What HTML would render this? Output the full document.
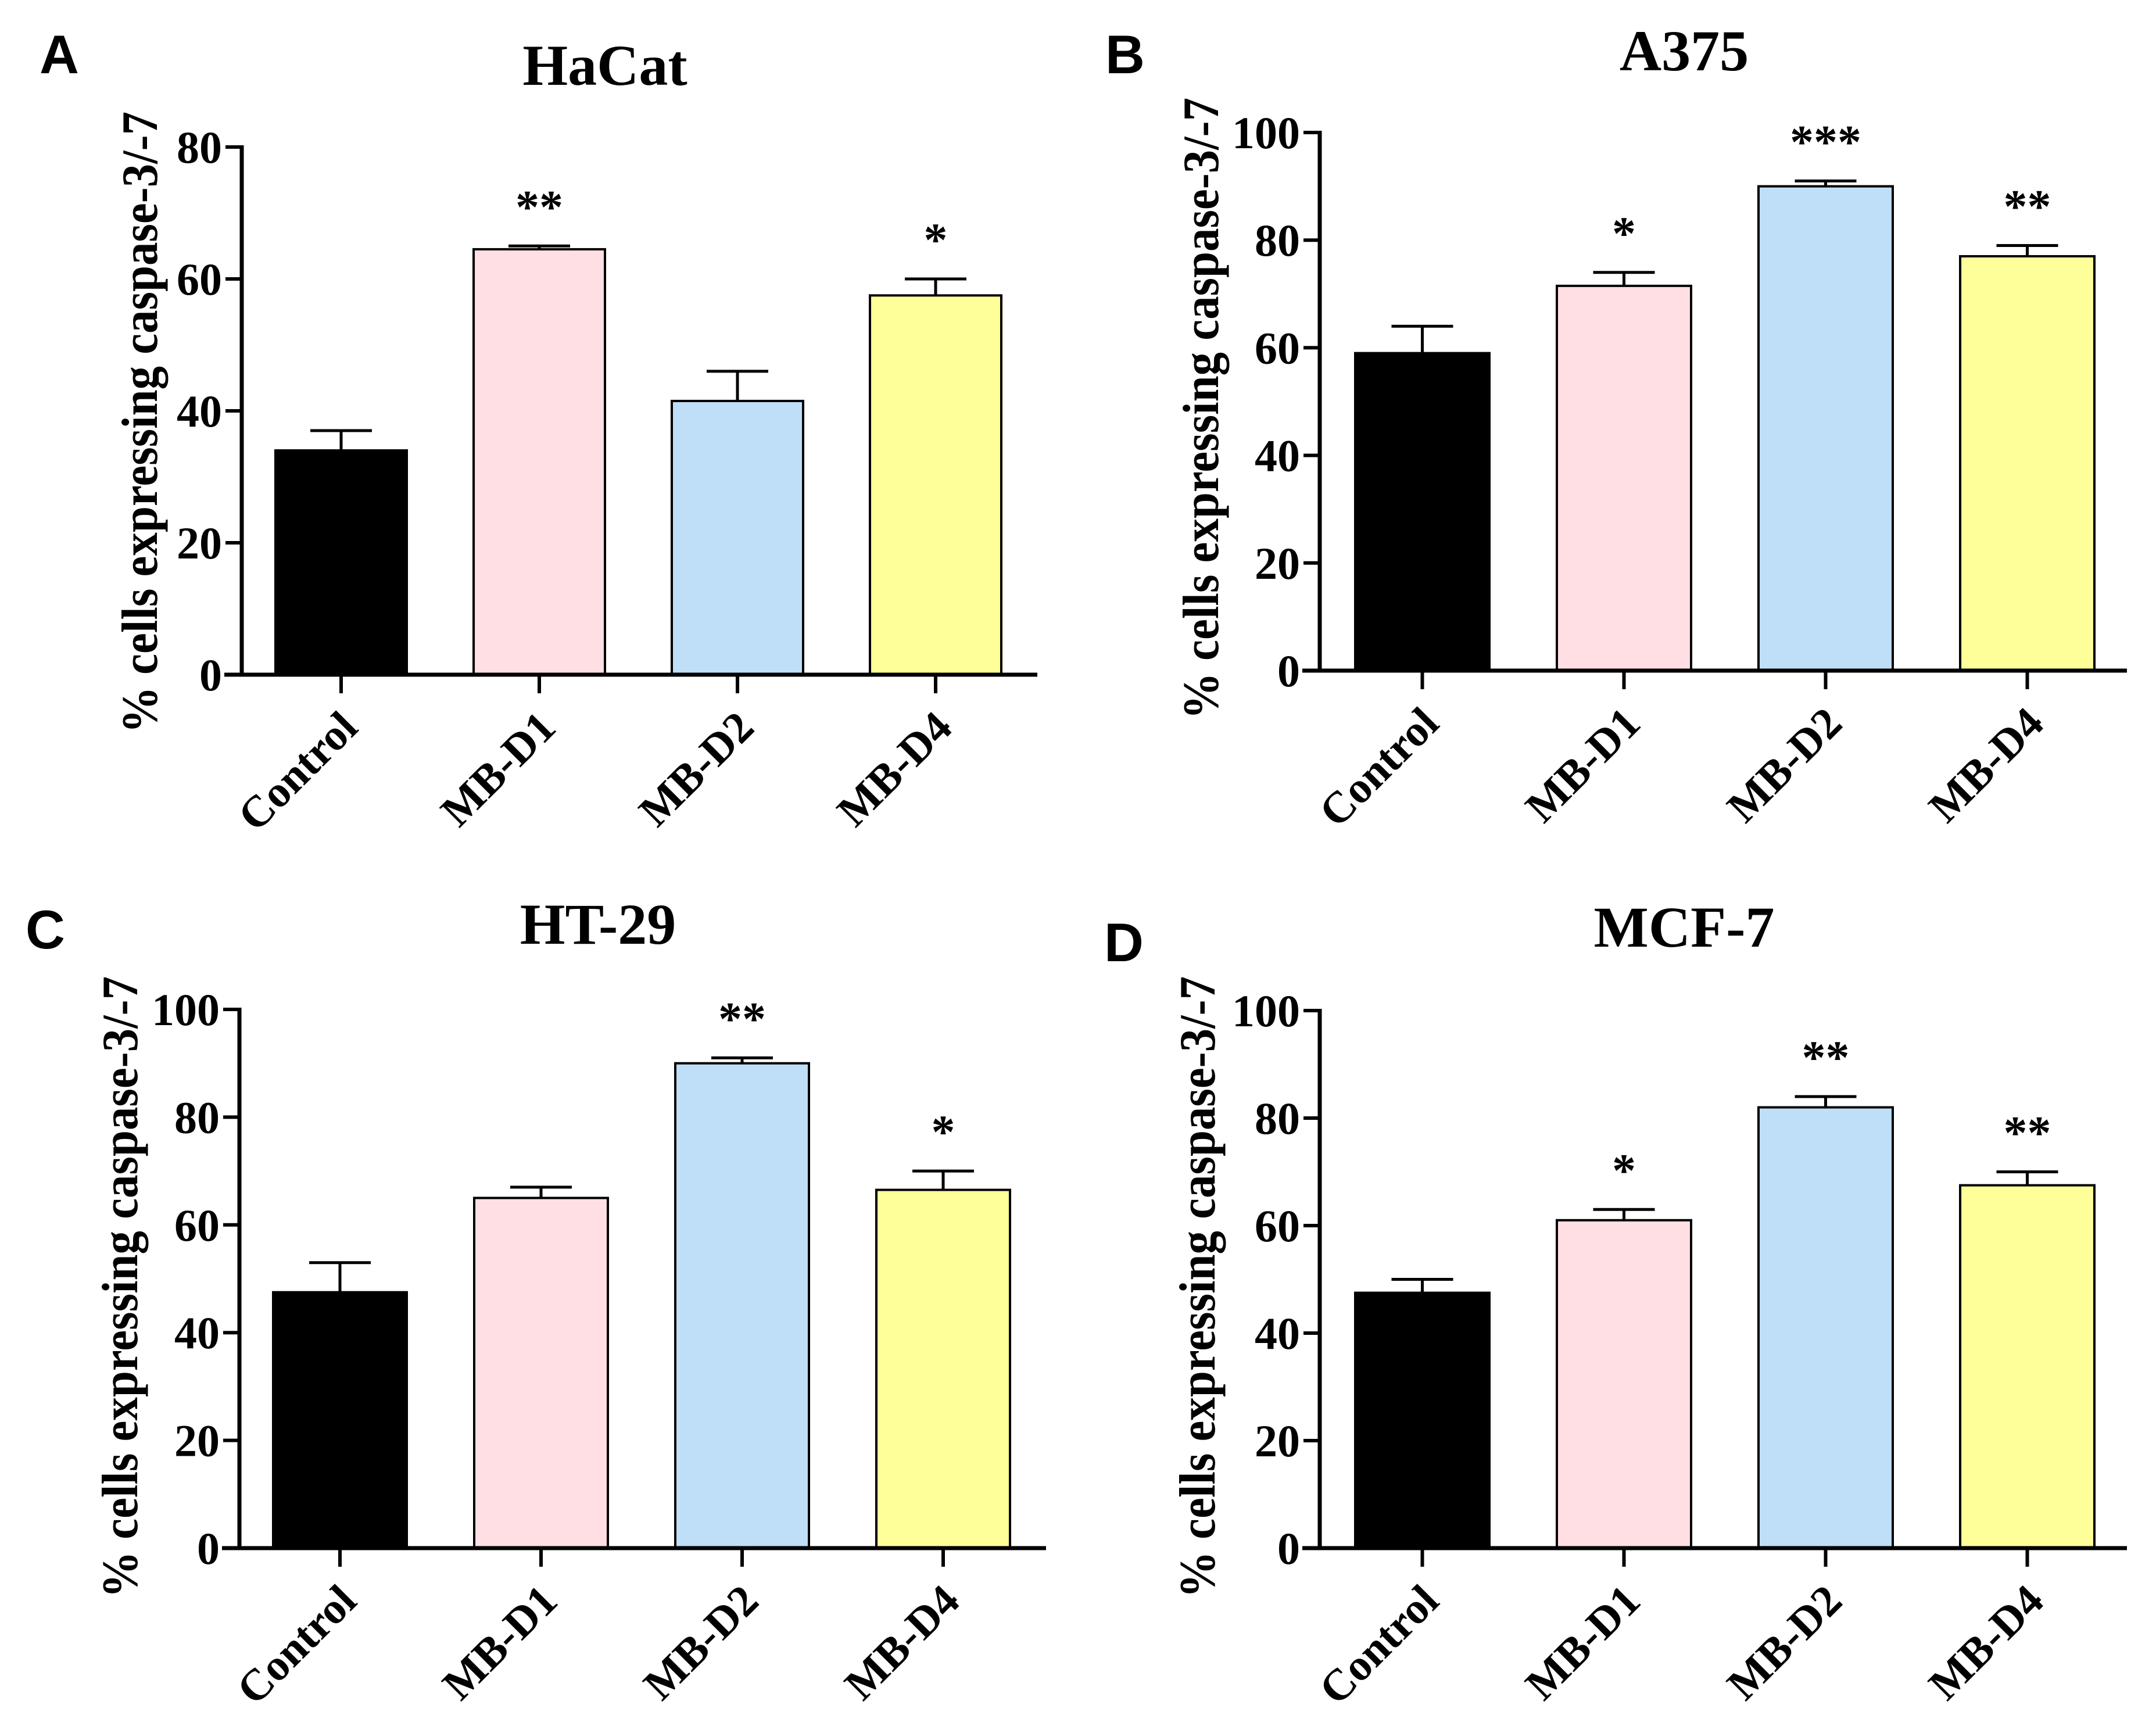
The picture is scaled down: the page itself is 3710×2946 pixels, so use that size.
<!DOCTYPE html>
<html><head><meta charset="utf-8">
<style>
html,body{margin:0;padding:0;background:#fff;}
svg{display:block;}
text{font-family:"Liberation Serif",serif;font-weight:bold;fill:#000;}
.lbl{font-family:"Liberation Sans",sans-serif;font-weight:bold;}
</style></head>
<body>
<svg id="fig" width="3710" height="2946" viewBox="0 0 3710 2946" xmlns="http://www.w3.org/2000/svg"></svg>
<script>
// ---- data ----
const categories = ["Control","MB-D1","MB-D2","MB-D4"];
const barColors = ["#000000","#ffdfe3","#bfdff8","#ffff99"];
const hacatValues = [34, 64.5, 41.5, 57.5];
const hacatErrors = [3, 0.5, 4.5, 2.5];
const hacatStars = ["", "**", "", "*"];
const a375Values = [59, 71.5, 90, 77];
const a375Errors = [5, 2.5, 1, 2];
const a375Stars = ["", "*", "***", "**"];
const ht29Values = [47.5, 65, 90, 66.5];
const ht29Errors = [5.5, 2, 1, 3.5];
const ht29Stars = ["", "", "**", "*"];
const mcf7Values = [47.5, 61, 82, 67.5];
const mcf7Errors = [2.5, 2, 2, 2.5];
const mcf7Stars = ["", "*", "**", "**"];
const ticks80 = [0,20,40,60,80];
const ticks100 = [0,20,40,60,80,100];

const NS = "http://www.w3.org/2000/svg";
const svg = document.getElementById('fig');
function mk(tag, attrs, parent, txt){
  const e = document.createElementNS(NS, tag);
  for (const k in attrs) e.setAttribute(k, attrs[k]);
  if (txt !== undefined) e.textContent = txt;
  (parent || svg).appendChild(e);
  return e;
}

function panel(p){
  const g = mk('g', {});
  
  
  const ymax = p.ticks[p.ticks.length-1];
  const y = v => p.zero - (v / ymax) * (p.zero - p.top);
  const bx = i => p.axisX + p.off + i * p.step;

  const letter = mk('text', {x:p.letterX, y:p.letterY, 'font-size':94, class:'lbl'}, g, p.letter);
  
  
  const title = mk('text', {x:p.titleX, y:p.titleY, 'font-size':100, 'text-anchor':'middle'}, g, p.title);
  
  

  const yt = mk('text', {x:0, y:0, 'font-size':88, 'text-anchor':'middle', textLength:1070, lengthAdjust:'spacingAndGlyphs',
    transform:`translate(${p.ytX},${p.ytY}) rotate(-90)`}, g, '% cells expressing caspase-3/-7');
  
  

  // bars
  p.values.forEach((v, i) => {
    const x0 = bx(i), x1 = x0 + p.bw, cx = x0 + p.bw/2;
    const r = mk('rect', {x:x0, y:y(v), width:p.bw, height:p.zero - y(v), fill:barColors[i], stroke:'#000', 'stroke-width':4}, g);
    
    
    const et = y(v + p.errors[i]);
    const eb = mk('path', {d:`M${cx},${y(v)} V${et} M${cx-53},${et} H${cx+53}`, stroke:'#000', 'stroke-width':5, fill:'none'}, g);
    
    
    if (p.stars[i]) {
      const s = mk('text', {x:cx, y:et - 40, 'font-size':82, 'text-anchor':'middle'}, g, p.stars[i]);
      
      
    }
    const tk = mk('line', {x1:cx, y1:p.zero, x2:cx, y2:p.zero + 32, stroke:'#000', 'stroke-width':6}, g);
    
    
    const lb = mk('text', {x:0, y:0, 'font-size':76, 'text-anchor':'end',
      transform:`translate(${cx+32},${p.zero+95}) rotate(-45)`}, g, categories[i]);
    
    
  });

  // axes
  const ya = mk('line', {x1:p.axisX, y1:p.top - 3, x2:p.axisX, y2:p.zero + 3, stroke:'#000', 'stroke-width':7}, g);
  
  
  const xa = mk('line', {x1:p.axisX - 30, y1:p.zero, x2:p.axisEnd, y2:p.zero, stroke:'#000', 'stroke-width':7}, g);
  
  
  p.ticks.forEach(t => {
    const tl = mk('line', {x1:p.axisX - 28, y1:y(t), x2:p.axisX, y2:y(t), stroke:'#000', 'stroke-width':6}, g);
    
    
    const tt = mk('text', {x:p.axisX - 34, y:y(t) + 27, 'font-size':78, 'text-anchor':'end'}, g, String(t));
    
    
  });
}

panel({id:'a', letter:'A', title:'HaCat', letterX:68, letterY:126, titleX:1041, titleY:146,
  ytX:270, ytY:727, axisX:416, top:253, zero:1161, axisEnd:1785, off:58, bw:226, step:341,
  ticks:ticks80, values:hacatValues, errors:hacatErrors, stars:hacatStars});
panel({id:'b', letter:'B', title:'A375', letterX:1902, letterY:126, titleX:2898, titleY:121,
  ytX:2096, ytY:703, axisX:2271, top:228, zero:1154, axisEnd:3660, off:61, bw:231, step:347,
  ticks:ticks100, values:a375Values, errors:a375Errors, stars:a375Stars});
panel({id:'c', letter:'C', title:'HT-29', letterX:44, letterY:1632, titleX:1029, titleY:1624,
  ytX:236, ytY:2215, axisX:412, top:1737, zero:2664, axisEnd:1800, off:58, bw:230, step:346,
  ticks:ticks100, values:ht29Values, errors:ht29Errors, stars:ht29Stars});
panel({id:'d', letter:'D', title:'MCF-7', letterX:1900, letterY:1654, titleX:2898, titleY:1629,
  ytX:2090, ytY:2215, axisX:2271, top:1739, zero:2664, axisEnd:3660, off:61, bw:231, step:347,
  ticks:ticks100, values:mcf7Values, errors:mcf7Errors, stars:mcf7Stars});
</script>
</body></html>
